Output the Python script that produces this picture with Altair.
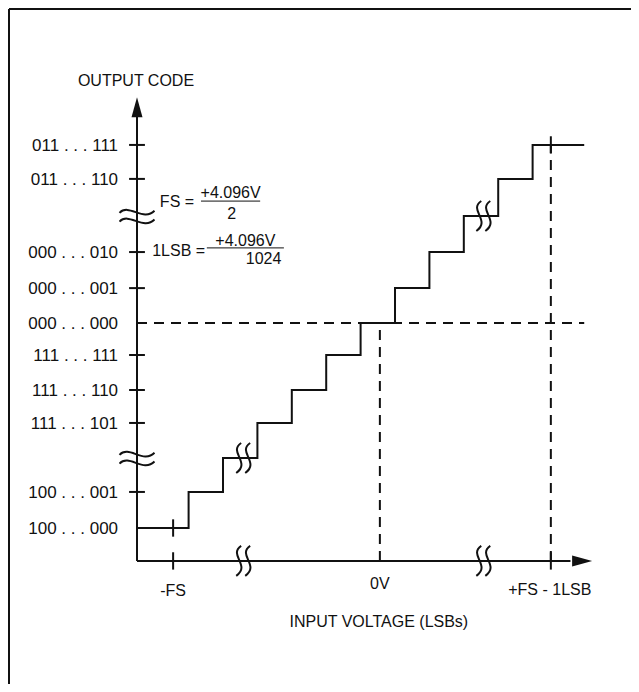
import altair as alt
import pandas as pd

FONT = "Liberation Sans, Arial, Helvetica, sans-serif"
FS = 16
FS_CODES = 17
INK = "#111111"

# ---- data (units: LSB steps) ----
code_levels = [0.0, 1.04, 2.02, 3.03, 3.98, 4.99, 5.91, 6.92, 7.96, 9.0, 10.07, 11.05]
code_labels = ["100 . . . 000", "100 . . . 001", "", "111 . . . 101", "111 . . . 110",
               "111 . . . 111", "000 . . . 000", "000 . . . 001", "000 . . . 010", "",
               "011 . . . 110", "011 . . . 111"]
tick_idx = [1, 3, 4, 5, 7, 8, 10, 11]
break_idx = [2, 9]
transitions = [1.5, 2.5, 3.5, 4.5, 5.5, 6.5, 7.5, 8.5, 9.5, 10.5, 11.5]
stair_start, stair_end = 0.0, 13.0
x_axis_lvl = -0.95
x_axis_end = 12.6
y_axis_end = 11.9
neg_fs_x, zero_x, pos_fs_x = 1.05, 7.06, 12.03
break_x = [3.08, 10.06]
x_labels = ["-FS", "0V", "+FS - 1LSB"]
x_label_x = [1.05, 7.06, 12.0]
x_label_y = [-1.78, -1.6, -1.75]
x_title, x_title_pos = "INPUT VOLTAGE (LSBs)", (7.03, -2.67)
y_title, y_title_pos = "OUTPUT CODE", (-0.03, 12.92)
label_x = -0.55
tick_half_x, tick_half_y = 0.23, 0.25
fs_eq = {"lhs": "FS =", "lhs_pos": (1.66, 9.44), "num": "+4.096V", "num_pos": (2.72, 9.68),
         "bar": (1.86, 3.58, 9.43), "den": "2", "den_pos": (2.75, 9.1)}
lsb_eq = {"lhs": "1LSB =", "lhs_pos": (1.98, 8.02), "num": "+4.096V", "num_pos": (3.15, 8.32),
          "bar": (2.03, 4.27, 8.08), "den": "1024", "den_pos": (3.68, 7.78)}
up_arrow_pos = (0.0, 12.14)
right_arrow_pos = (12.94, -0.95)

XS = alt.Scale(domain=[-3.75, 14.36], nice=False, zero=False)
YS = alt.Scale(domain=[-4.5, 15.0], nice=False, zero=False)

def X(f="x"):
    return alt.X(f"{f}:Q", scale=XS, axis=None)

def Y(f="y"):
    return alt.Y(f"{f}:Q", scale=YS, axis=None)

# staircase
stair = pd.DataFrame({"x": [stair_start] + transitions + [stair_end],
                      "y": code_levels + [code_levels[-1]]})
stair_layer = alt.Chart(stair).mark_line(interpolate="step-after", color=INK,
                                         strokeWidth=2).encode(x=X(), y=Y())

# axes lines
axes = pd.DataFrame({"x": [0.0, 0.0], "x2": [0.0, x_axis_end],
                     "y": [x_axis_lvl, x_axis_lvl], "y2": [y_axis_end, x_axis_lvl]})
axes_layer = alt.Chart(axes).mark_rule(color=INK, strokeWidth=2).encode(
    x=X(), x2="x2:Q", y=Y(), y2="y2:Q")

# y ticks
yt = pd.DataFrame({"x": [-tick_half_x] * len(tick_idx), "x2": [tick_half_x] * len(tick_idx),
                   "y": [code_levels[i] for i in tick_idx]})
yt_layer = alt.Chart(yt).mark_rule(color=INK, strokeWidth=2).encode(x=X(), x2="x2:Q", y=Y())

# vertical ticks at -FS and +FS-1LSB
vt_rows = []
for xx, lvl in [(neg_fs_x, code_levels[0]), (neg_fs_x, x_axis_lvl),
                (pos_fs_x, code_levels[-1]), (pos_fs_x, x_axis_lvl)]:
    vt_rows.append({"x": xx, "y": lvl - tick_half_y, "y2": lvl + tick_half_y})
vt_layer = alt.Chart(pd.DataFrame(vt_rows)).mark_rule(color=INK, strokeWidth=2).encode(
    x=X(), y=Y(), y2="y2:Q")

# dashed guides
dash = pd.DataFrame({
    "x": [0.0, zero_x, pos_fs_x],
    "x2": [stair_end, zero_x, pos_fs_x],
    "y": [code_levels[6], x_axis_lvl, x_axis_lvl],
    "y2": [code_levels[6], code_levels[6], code_levels[-1]],
})
dash_layer = alt.Chart(dash).mark_rule(color=INK, strokeWidth=2, strokeDash=[10, 7]).encode(
    x=X(), x2="x2:Q", y=Y(), y2="y2:Q")

# arrowheads
UP = "M 0 -1 L 0.55 1 L -0.55 1 Z"
RIGHT = "M 1 0 L -1 -0.55 L -1 0.55 Z"
up_layer = alt.Chart(pd.DataFrame({"x": [up_arrow_pos[0]], "y": [up_arrow_pos[1]]})).mark_point(
    shape=UP, filled=True, size=400, color=INK, opacity=1, strokeWidth=0).encode(x=X(), y=Y())
rt_layer = alt.Chart(pd.DataFrame({"x": [right_arrow_pos[0]], "y": [right_arrow_pos[1]]})).mark_point(
    shape=RIGHT, filled=True, size=400, color=INK, opacity=1, strokeWidth=0).encode(x=X(), y=Y())

# break symbols
HBREAK = ("M -1 -0.18 C -0.45 -0.75 0.35 0.35 1 -0.3 "
          "M -1 0.32 C -0.45 -0.25 0.35 0.85 1 0.2")
VBREAK = ("M -0.12 -1 C -1.0 -0.4 0.55 0.3 -0.45 1 "
          "M 0.48 -1 C -0.4 -0.4 1.15 0.3 0.15 1")
hb = pd.DataFrame({"x": [0.0, 0.0], "y": [code_levels[i] for i in break_idx]})
hb_layer = alt.Chart(hb).mark_point(shape=HBREAK, filled=False, size=1225, color=INK,
                                    opacity=1, strokeWidth=2).encode(x=X(), y=Y())
vb = pd.DataFrame({"x": break_x + break_x,
                   "y": [code_levels[2], code_levels[9], x_axis_lvl, x_axis_lvl]})
vb_layer = alt.Chart(vb).mark_point(shape=VBREAK, filled=False, size=900, color=INK,
                                    opacity=1, strokeWidth=2).encode(x=X(), y=Y())

# text
def text_layer(df, align, size):
    return alt.Chart(df).mark_text(font=FONT, fontSize=size, color=INK, align=align,
                                   baseline="middle", dy=1).encode(x=X(), y=Y(), text="t:N")

ylab = pd.DataFrame({"x": [label_x] * len(code_labels), "y": code_levels, "t": code_labels})
ylab = ylab[ylab["t"] != ""]
code_txt = text_layer(ylab, "right", FS_CODES)

center_rows = [{"x": x, "y": y, "t": t} for x, y, t in zip(x_label_x, x_label_y, x_labels)]
center_rows.append({"x": x_title_pos[0], "y": x_title_pos[1], "t": x_title})
center_rows.append({"x": y_title_pos[0], "y": y_title_pos[1], "t": y_title})
right_rows = []
bars = []
for eq in (fs_eq, lsb_eq):
    right_rows.append({"x": eq["lhs_pos"][0], "y": eq["lhs_pos"][1], "t": eq["lhs"]})
    center_rows.append({"x": eq["num_pos"][0], "y": eq["num_pos"][1], "t": eq["num"]})
    center_rows.append({"x": eq["den_pos"][0], "y": eq["den_pos"][1], "t": eq["den"]})
    bars.append({"x": eq["bar"][0], "x2": eq["bar"][1], "y": eq["bar"][2]})
right_txt = text_layer(pd.DataFrame(right_rows), "right", FS)
center_txt = text_layer(pd.DataFrame(center_rows), "center", FS)
bar_layer = alt.Chart(pd.DataFrame(bars)).mark_rule(color=INK, strokeWidth=1).encode(
    x=X(), x2="x2:Q", y=Y())

# frame (top and left edges of the figure box)
frame_left = alt.Chart(pd.DataFrame({"a": [0]})).mark_rule(color=INK, strokeWidth=2).encode(
    x=alt.value(1), y=alt.value(1), y2=alt.value(676))
frame_top = alt.Chart(pd.DataFrame({"a": [0]})).mark_rule(color=INK, strokeWidth=2).encode(
    x=alt.value(1), x2=alt.value(623), y=alt.value(1))

chart = alt.layer(
    frame_left, frame_top, dash_layer, axes_layer, yt_layer, vt_layer, stair_layer,
    up_layer, rt_layer, hb_layer, vb_layer, bar_layer, code_txt, right_txt, center_txt
).properties(
    width=623, height=676, padding=0,
    autosize=alt.AutoSizeParams(type="none"),
    background="white",
).configure_view(stroke=None)

chart.save("out.html", embed_options={"renderer": "svg", "actions": False})
